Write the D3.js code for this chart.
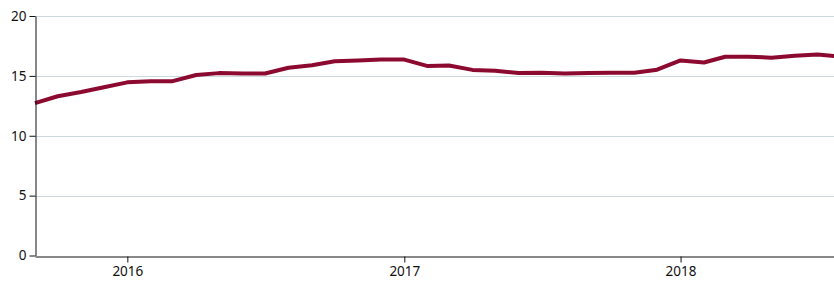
<!DOCTYPE html>
<html>
<head>
<meta charset="utf-8">
<script src="https://cdn.jsdelivr.net/npm/d3@7"></script>
<style>
  body { margin: 0; background: #fff; }
  svg { display: block; }
  .axis path, .axis line { stroke: #111; }
  .grid line { stroke: #cbd8dd; }
</style>
</head>
<body>
<svg></svg>
<script>

var months = [
  '2015-09', '2015-10', '2015-11', '2015-12',
  '2016-01', '2016-02', '2016-03', '2016-04', '2016-05', '2016-06',
  '2016-07', '2016-08', '2016-09', '2016-10', '2016-11', '2016-12',
  '2017-01', '2017-02', '2017-03', '2017-04', '2017-05', '2017-06',
  '2017-07', '2017-08', '2017-09', '2017-10', '2017-11', '2017-12',
  '2018-01', '2018-02', '2018-03', '2018-04', '2018-05', '2018-06',
  '2018-07', '2018-08'
];
var values = [
  12.72, 13.3, 13.65, 14.05,
  14.46, 14.56, 14.56, 15.07, 15.23, 15.2,
  15.2, 15.68, 15.88, 16.22, 16.28, 16.36,
  16.36, 15.82, 15.87, 15.5, 15.42, 15.24,
  15.27, 15.2, 15.24, 15.27, 15.26, 15.52,
  16.29, 16.12, 16.6, 16.6, 16.52, 16.68,
  16.79, 16.6
];
var yTicks = [0, 5, 10, 15, 20];

var svgWidth = 834;
var svgHeight = 281;
var margin = {top: 16, left: 35, bottom: 25.5};

var parse = d3.timeParse('%Y-%m');
var data = months.map(function(m, i) { return {date: parse(m), value: values[i]}; });

var svg = d3.select('svg')
  .attr('width', svgWidth)
  .attr('height', svgHeight);

// ----- Scales ----- //
var x = d3.scaleTime()
  .domain([parse('2015-09'), parse('2018-08')])
  .range([margin.left, 841]);

var y = d3.scaleLinear()
  .domain([0, 20])
  .range([svgHeight - margin.bottom, margin.top]);

// ----- Grid ----- //
svg.append('g')
  .attr('class', 'grid')
  .selectAll('line')
  .data(yTicks.filter(function(d) { return d > 0; }))
  .enter()
  .append('line')
  .attr('x1', margin.left)
  .attr('x2', svgWidth)
  .attr('y1', function(d) { return Math.round(y(d)) + 0.5; })
  .attr('y2', function(d) { return Math.round(y(d)) + 0.5; });

// ----- Line ----- //
var line = d3.line()
  .x(function(d) { return x(d.date); })
  .y(function(d) { return y(d.value); });

svg.append('path')
  .datum(data)
  .attr('d', line)
  .attr('fill', 'none')
  .attr('stroke', '#8c0a30')
  .attr('stroke-width', 4)
  .attr('stroke-linejoin', 'round');

// ----- Axes ----- //
var xAxis = svg.append('g')
  .attr('class', 'axis')
  .attr('transform', translate(0, Math.round(y(0)) + 0.5))
  .call(d3.axisBottom(x)
    .tickValues([parse('2016-01'), parse('2017-01'), parse('2018-01')])
    .tickFormat(d3.timeFormat('%Y'))
    .tickSize(6)
    .tickSizeOuter(0)
    .tickPadding(4));

var yAxis = svg.append('g')
  .attr('class', 'axis')
  .attr('transform', translate(margin.left + 0.5, 0))
  .call(d3.axisLeft(y)
    .tickValues(yTicks)
    .tickSize(6)
    .tickSizeOuter(0)
    .tickPadding(3));

[xAxis, yAxis].forEach(function(a) {
  a.attr('font-family', '"Noto Sans", sans-serif')
    .attr('font-size', 13.5)
    .selectAll('text').attr('fill', '#111');
});

function translate(a, b) {
  return 'translate(' + a + ',' + b + ')';
}

</script>
</body>
</html>
